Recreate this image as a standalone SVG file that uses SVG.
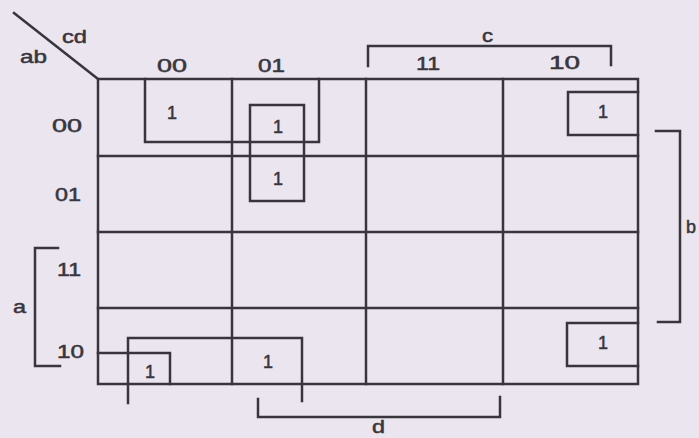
<svg xmlns="http://www.w3.org/2000/svg" width="699" height="438" viewBox="0 0 699 438">
<style>
.ln{fill:none;stroke:#38363c;stroke-width:2.5;stroke-linecap:square}
.t{font-family:"Liberation Sans",Arial,sans-serif;font-size:18px;fill:#38363c;stroke:#38363c;stroke-width:0.5}
</style>
<rect width="699" height="438" fill="#ebe5f0"/>
<g id="connectors">
<g id="grid" class="ln">
<path d="M14,13 L98,79"/>
<rect x="98" y="79" width="540" height="305"/>
<path d="M232,79 V384 M366,79 V384 M503,79 V384"/>
<path d="M98,156 H638 M98,232 H638 M98,308 H638"/>
</g>
<g id="bracket-c" class="ln"><path d="M368,66 V46 H611 V65"/></g>
<g id="bracket-a" class="ln"><path d="M58,248 H35 V366 H60"/></g>
<g id="bracket-b" class="ln"><path d="M656,131 H680 V322 H658"/></g>
<g id="bracket-d" class="ln"><path d="M258,399 V417 H500 V397"/></g>
<g id="loops" class="ln">
<path d="M145,79 V142 H319 V79"/>
<rect x="250" y="105" width="54" height="96"/>
<path d="M638,92 H568 V135 H638"/>
<path d="M638,323 H567 V366 H638"/>
<path d="M98,353 H170 V384"/>
<path d="M128,403 V338 H302 V401"/>
</g>
</g>
<g id="labels" class="t">
<text x="62" y="43" textLength="25" lengthAdjust="spacingAndGlyphs">cd</text>
<text x="20" y="63" textLength="27" lengthAdjust="spacingAndGlyphs">ab</text>
<text x="482" y="42" textLength="11" lengthAdjust="spacingAndGlyphs">c</text>
<text x="13" y="313" textLength="13" lengthAdjust="spacingAndGlyphs">a</text>
<text x="686" y="233">b</text>
<text x="372" y="433" textLength="13" lengthAdjust="spacingAndGlyphs">d</text>
</g>
<g id="col-headers" class="t">
<text x="157" y="72" textLength="30" lengthAdjust="spacingAndGlyphs">00</text>
<text x="258" y="72" textLength="27" lengthAdjust="spacingAndGlyphs">01</text>
<text x="416" y="70" textLength="24" lengthAdjust="spacingAndGlyphs">11</text>
<text x="549" y="69" textLength="31" lengthAdjust="spacingAndGlyphs">10</text>
</g>
<g id="row-headers" class="t">
<text x="52" y="132" textLength="30" lengthAdjust="spacingAndGlyphs">00</text>
<text x="55" y="201" textLength="26" lengthAdjust="spacingAndGlyphs">01</text>
<text x="57" y="276" textLength="24" lengthAdjust="spacingAndGlyphs">11</text>
<text x="57" y="358" textLength="27" lengthAdjust="spacingAndGlyphs">10</text>
</g>
<g id="ones" class="t" text-anchor="middle">
<text x="172" y="119">1</text>
<text x="278" y="133">1</text>
<text x="278" y="185">1</text>
<text x="603" y="118">1</text>
<text x="603" y="349">1</text>
<text x="150" y="378">1</text>
<text x="268" y="368">1</text>
</g>
</svg>
